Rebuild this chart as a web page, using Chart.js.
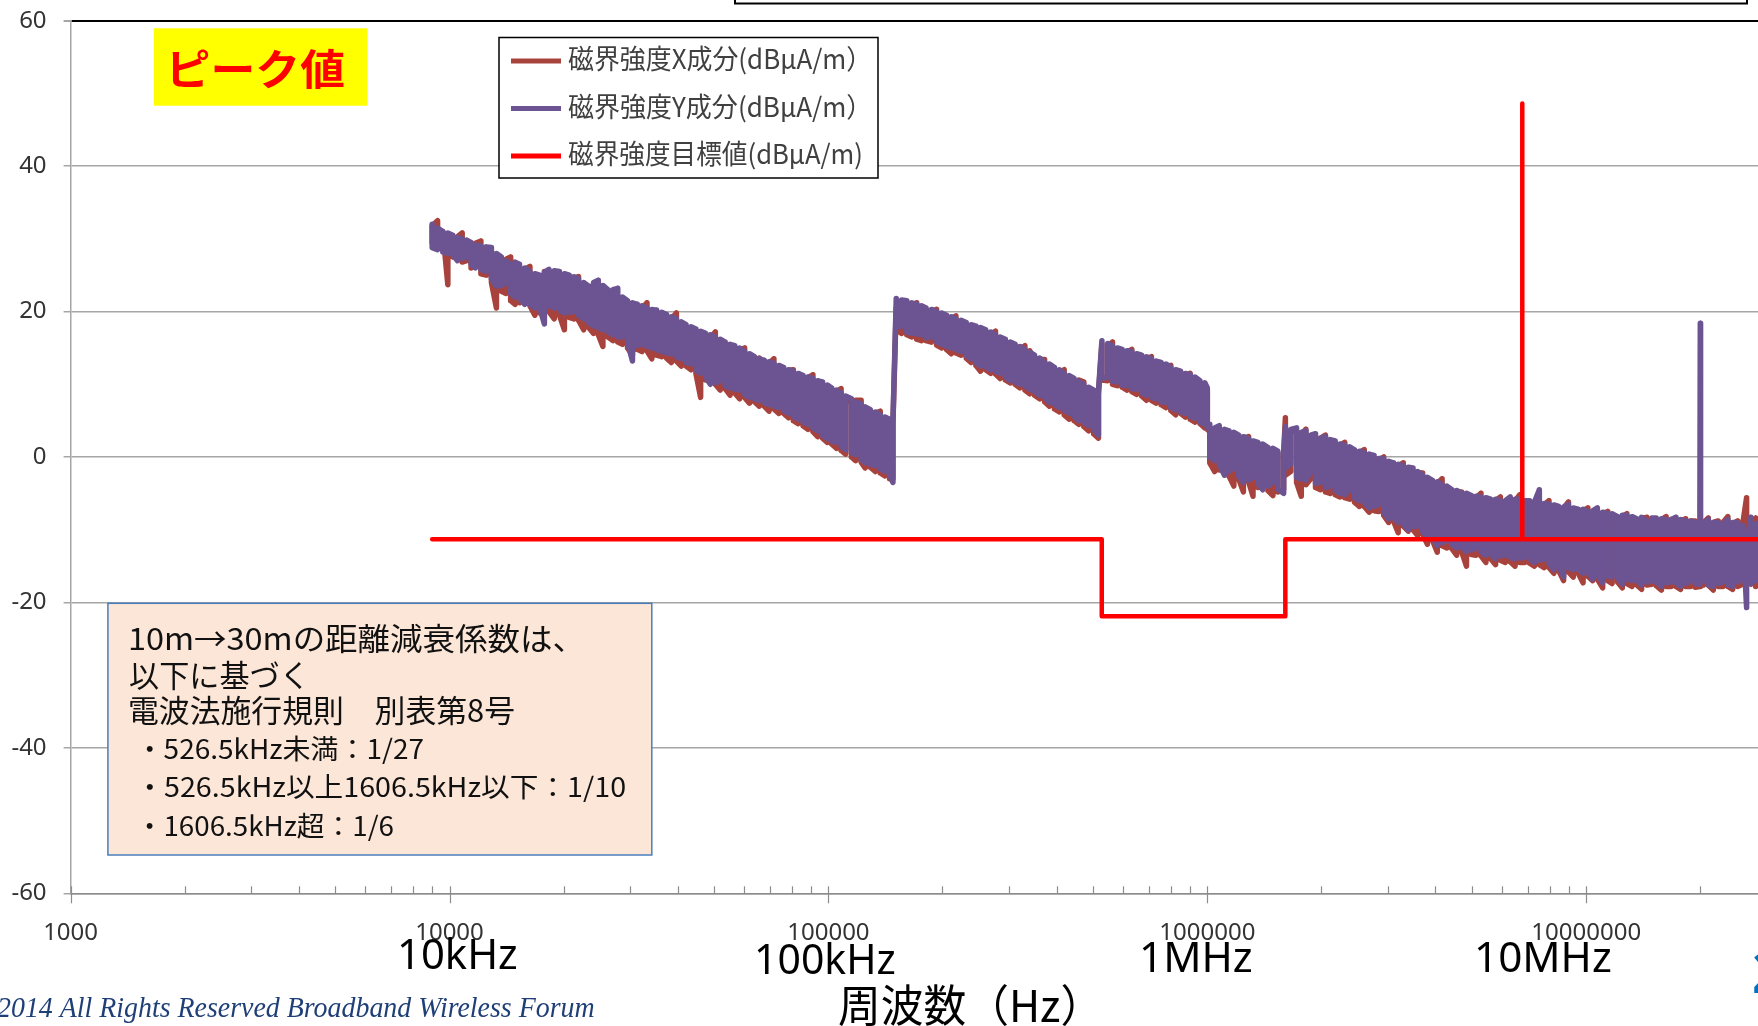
<!DOCTYPE html>
<html><head><meta charset="utf-8">
<script src="https://cdn.jsdelivr.net/npm/chart.js@4.4.1/dist/chart.umd.min.js"></script>
<style>html,body{margin:0;padding:0;background:#fff;overflow:hidden}canvas{display:block}</style>
</head><body>
<canvas id="c" width="1758" height="1026"></canvas>
<script>
// ---- data: frequency bins in kHz; two readings per bin (values in dBμA/m) ----
const freqA = [9.0,9.3,9.6,9.9,10.2,10.5,10.8,11.1,11.4,11.7,
12.1,12.5,12.9,13.3,13.7,14.1,14.5,14.9,15.3,15.8,
16.3,16.8,17.3,17.8,18.3,18.9,19.5,20.1,20.7,21.3,
21.9,22.6,23.3,24.0,24.7,25.4,26.2,27.0,27.8,28.6,
29.5,30.4,31.3,32.2,33.2,34.2,35.2,36.3,37.4,38.5,
39.7,40.9,42.1,43.4,44.7,46.0,47.4,48.8,50.3,51.8,
53.4,55.0,56.6,58.3,60.1,61.9,63.8,65.7,67.7,69.7,
71.8,74.0,76.2,78.5,80.8,83.2,85.7,88.3,91.0,93.7,
96.5,99.4,102,105,108,111,115,118,122,125,
129,133,137,141,145,148];
const xA = [29.5,32.5,29.0,23.7,30.0,28.0,30.8,27.0,29.0,26.5,
29.7,25.0,28.0,20.5,27.0,22.5,27.5,21.0,25.8,22.0,
26.2,19.5,24.5,20.0,24.8,19.0,25.0,17.5,24.5,19.0,
24.8,17.5,23.0,17.0,23.8,15.2,22.5,16.0,22.0,15.5,
21.0,14.0,20.8,14.5,21.2,13.5,19.5,13.8,19.0,13.0,
19.8,12.5,17.8,12.0,16.9,8.2,16.5,10.5,17.2,9.2,
15.2,8.5,14.8,8.0,15.0,7.4,13.2,7.0,12.8,6.3,
13.5,6.0,11.8,5.4,12.0,4.6,10.8,3.8,11.3,2.8,
9.8,2.0,9.0,1.2,9.4,0.4,7.4,-0.5,7.8,-1.5,
6.0,-2.0,6.3,-2.6,4.8,-3.0];
const xA2 = [31.8,28.8,31.0,29.5,27.5,30.3,26.8,29.8,26.0,29.4,
25.2,28.6,24.0,27.8,22.8,27.2,21.5,26.5,21.2,25.8,
20.8,25.0,19.8,25.5,20.0,25.2,19.5,24.7,19.2,24.6,
18.8,23.6,17.8,23.8,16.8,23.2,16.5,22.8,15.8,21.6,
15.0,21.0,14.8,20.5,14.6,20.0,14.0,19.6,13.6,19.0,
13.2,18.4,12.5,17.6,11.5,17.0,10.6,16.4,10.0,16.0,
9.4,15.3,8.8,14.7,8.2,14.0,7.6,13.6,7.0,12.9,
6.6,12.2,6.0,11.9,5.0,11.2,4.3,10.9,3.5,10.2,
2.6,9.6,1.8,9.0,0.9,8.1,0.0,7.8,-0.7,6.6,
-1.4,6.0,-2.2,5.2,-3.0,4.5];
const yA = [32.0,28.5,31.0,28.0,30.5,27.0,30.0,27.5,29.5,26.0,
29.0,25.5,28.8,23.5,27.5,24.0,26.5,22.0,26.5,21.0,
25.5,20.5,25.0,18.3,25.8,20.5,25.5,19.8,25.0,20.0,
24.5,19.0,23.5,18.0,24.3,17.5,23.0,16.8,23.2,16.5,
21.5,13.2,21.0,15.5,20.5,15.0,20.2,14.5,19.6,14.2,
19.0,13.5,18.2,12.8,17.6,11.5,17.0,10.0,16.5,10.5,
15.8,9.5,15.3,9.2,14.5,8.2,13.8,7.8,13.3,7.2,
12.9,6.8,12.3,6.0,11.8,5.2,11.2,4.5,10.8,3.6,
10.3,2.5,9.5,2.0,8.8,1.0,8.0,0.3,7.3,-0.8,
6.5,-1.2,5.8,-2.0,5.2,-3.5];
const yA2 = [28.8,31.5,28.2,30.8,27.8,30.2,27.3,29.8,26.5,29.2,
25.8,28.9,24.5,28.0,23.5,27.0,22.5,26.8,21.8,26.0,
21.0,25.2,20.5,25.4,20.8,25.6,20.2,25.2,19.9,24.8,
19.5,24.0,18.5,24.0,17.8,23.6,17.2,23.0,16.5,22.0,
15.8,21.2,15.3,20.8,15.2,20.3,14.8,19.9,14.3,19.3,
13.8,18.6,13.0,17.9,12.0,17.3,11.0,16.8,10.2,16.2,
9.8,15.5,9.3,15.0,8.6,14.2,8.0,13.5,7.5,13.1,
7.0,12.6,6.4,12.0,5.6,11.5,4.8,11.0,4.0,10.5,
3.0,9.9,2.2,9.2,1.5,8.4,0.6,7.6,-0.3,6.9,
-1.0,6.2,-1.6,5.5,-2.4,4.8];

const freqB = [151,156,161,166,171,176,181,187,193,199,
205,211,217,224,231,238,245,252,260,268,
276,284,293,302,311,320,330,340,350,361,
372,383,395,407,419,432,445,458,472,486,
501,516];
const xB = [20.5,17.0,21.0,16.5,21.2,16.0,19.8,15.8,20.3,15.0,
18.8,14.2,19.4,14.0,17.8,13.0,17.6,11.8,17.0,11.5,
17.3,10.8,15.8,10.2,15.0,9.5,15.3,8.7,13.5,8.0,
13.4,7.0,11.8,6.2,12.0,5.2,10.4,4.5,10.3,3.6,
8.8,2.6];
const xB2 = [17.5,21.2,16.8,20.8,16.2,20.6,16.0,20.0,15.4,19.6,
14.8,19.0,14.3,18.5,13.6,18.0,12.6,17.2,12.0,16.8,
11.4,16.4,10.6,15.6,10.0,14.8,9.2,14.6,8.5,13.4,
7.6,12.6,6.6,11.6,5.8,11.0,5.0,10.6,4.2,9.4,
3.2,8.6];
const yB = [21.8,18.0,21.5,17.0,21.0,16.8,20.5,16.5,20.0,15.5,
19.5,15.0,19.0,14.5,18.5,13.5,18.0,12.5,17.5,12.0,
16.8,11.5,16.2,10.5,15.5,10.0,14.8,9.3,14.0,8.5,
13.0,7.5,12.3,6.8,11.5,6.0,10.8,5.0,10.0,4.3,
9.2,3.0];
const yB2 = [17.8,21.6,17.2,21.2,16.9,20.8,16.4,20.3,15.9,19.8,
15.2,19.3,14.8,18.8,14.0,18.2,13.0,17.8,12.4,17.2,
11.8,16.5,11.0,15.8,10.3,15.2,9.8,14.4,9.0,13.6,
8.2,12.8,7.3,12.0,6.5,11.2,5.6,10.4,4.8,9.6,
3.8,9.0];

const freqC = [527,546,562,579,596,614,632,651,671,691,
712,733,755,778,801,825,850,875,901,928,
956,985,1000,1015,1045,1075,1110,1140,1175,1210,
1245,1285,1320,1360,1400,1445,1490,1535,1590];
const xC = [15.5,10.5,15.8,9.8,14.2,9.2,14.8,8.6,13.6,7.8,
13.8,7.4,12.5,6.8,12.6,5.8,11.2,5.5,11.5,4.8,
10.0,4.0,9.2,3.5,-2.0,4.0,-1.5,3.0,-4.0,2.4,
-4.8,2.8,-5.4,1.5,-4.0,1.0,-5.3,0.5,-4.5];
const xC2 = [10.6,15.2,10.0,14.8,9.6,14.4,9.0,13.9,8.4,13.4,
7.8,13.0,7.2,12.4,6.4,11.8,6.0,11.2,5.2,10.6,
4.6,9.9,3.8,-0.8,3.6,-1.8,3.4,-2.6,2.8,-3.0,
2.5,-3.4,2.0,-4.2,1.6,-4.6,1.0,-4.8,0.4];
const yC = [16.0,11.0,15.3,10.3,14.8,9.8,14.5,9.3,14.0,8.5,
13.5,8.0,13.0,7.5,12.3,6.5,11.8,6.0,11.3,5.3,
10.5,4.5,9.5,4.5,-0.5,4.3,-2.5,3.6,-1.5,3.0,
-3.5,2.5,-2.8,2.0,-4.5,1.3,-3.5,0.8,-5.0];
const yC2 = [10.8,15.6,10.4,15.0,9.9,14.6,9.4,14.2,8.8,13.8,
8.2,13.2,7.6,12.8,6.8,12.0,6.2,11.5,5.6,11.0,
4.8,10.2,4.0,0.0,4.0,-1.0,3.8,-2.0,3.4,-2.6,
2.8,-3.2,2.2,-3.6,1.8,-4.0,1.2,-4.4,0.6];

const freqD = [1607,1660,1720,1770,1820,1875,1930,1990,2050,2110,
2175,2240,2305,2375,2445,2520,2595,2675,2755,2835,
2920,3010,3100,3190,3290,3390,3490,3590,3700,3810,
3925,4045,4165,4290,4420,4550,4690,4830,4975,5120,
5275,5435,5595,5765,5935,6115,6300,6490,6680,6880,
7090,7300,7520,7745,7975,8215,8460,8715,8975,9245,
9525,9810,10100,10400,10700,11050,11400,11700,12100,12450,
12800,13200,13600,14000,14450,14900,15300,15800,16250,16750,
17250,17750,18300,18850,19400,19950,20000,20050,20400,21000,
21650,22300,22950,23650,24350,25100,25850,26500,27200,28000,
28800];
const xD = [5.4,-2.0,3.5,-5.4,3.8,-3.0,2.8,-4.5,3.0,-5.0,
1.8,-5.5,2.0,-5.8,0.6,-6.8,1.0,-7.6,-0.3,-7.5,
0.0,-9.0,-1.0,-10.4,-0.8,-10.2,-2.0,-10.8,-2.2,-12.0,
-3.5,-13.1,-3.0,-12.5,-4.8,-13.5,-4.8,-15.0,-5.6,-13.5,
-5.0,-14.5,-6.2,-14.8,-5.5,-14.5,-6.0,-15.0,-5.2,-14.5,
-6.2,-15.0,-5.8,-15.2,-6.0,-16.0,-7.2,-17.0,-6.2,-16.5,
-7.6,-17.3,-7.0,-17.0,-7.8,-18.0,-7.5,-17.4,-8.4,-18.0,
-7.8,-17.8,-8.7,-18.2,-8.3,-17.5,-8.8,-18.3,-8.2,-17.8,
-8.8,-18.2,-8.5,-17.8,-8.8,-17.8,-12.0,-9.5,-17.6,-8.4,
-18.3,-8.8,-17.8,-8.2,-18.2,-8.8,-17.5,-5.6,-17.5,-8.4,
-17.0];
const xD2 = [-2.5,3.6,-3.5,3.2,-3.8,2.8,-4.2,2.6,-4.8,2.2,
-5.2,1.6,-5.6,1.2,-6.2,0.6,-6.8,0.2,-7.4,-0.4,
-8.0,-0.8,-8.8,-1.2,-9.5,-1.6,-10.0,-2.2,-10.6,-3.0,
-11.4,-3.6,-12.2,-4.2,-12.6,-4.8,-13.0,-5.2,-13.4,-5.6,
-13.6,-5.8,-14.0,-6.0,-14.2,-6.1,-14.4,-6.0,-14.5,-6.2,
-14.6,-6.4,-14.8,-6.6,-15.2,-6.8,-15.6,-7.0,-15.8,-7.2,
-16.0,-7.4,-16.4,-7.6,-16.8,-7.8,-17.0,-8.0,-17.2,-8.2,
-17.4,-8.3,-17.6,-8.4,-17.6,-8.5,-17.7,-8.6,-17.8,-8.6,
-17.8,-8.8,-17.8,-8.8,-17.9,-9.0,-17.8,-17.4,-9.0,-17.6,
-9.0,-17.8,-9.0,-17.8,-9.2,-17.8,-9.4,-17.0,-9.2,-17.8,
-9.0];
const yD = [4.2,-1.0,4.0,-3.0,3.6,-2.0,3.2,-3.5,2.8,-4.0,
2.2,-5.0,1.6,-4.5,1.0,-6.0,0.6,-7.0,0.2,-6.5,
-0.2,-8.5,-0.8,-9.0,-1.2,-10.0,-1.5,-9.5,-2.5,-11.0,
-3.2,-12.2,-3.8,-11.5,-4.5,-12.5,-5.0,-13.0,-5.3,-12.5,
-5.5,-13.5,-5.8,-14.0,-6.0,-13.5,-5.5,-14.0,-5.8,-13.8,
-6.0,-14.5,-4.5,-14.0,-6.5,-15.5,-6.8,-16.5,-6.5,-15.5,
-7.2,-16.0,-7.5,-16.8,-7.0,-17.3,-7.8,-16.5,-8.2,-17.5,
-8.0,-17.0,-8.5,-17.6,-8.8,-17.0,-8.4,-17.8,-8.6,-17.2,
-8.3,-17.8,-8.8,-17.0,-9.0,-17.5,18.4,-10.0,-17.0,-8.6,
-17.8,-9.0,-17.2,-8.6,-17.8,-9.0,-16.8,-20.7,-8.3,-17.0,
-9.0];
const yD2 = [-1.5,3.8,-2.8,3.4,-3.2,3.0,-3.6,2.6,-4.2,2.4,
-4.6,1.8,-5.2,1.4,-5.6,0.8,-6.2,0.4,-6.8,-0.2,
-7.6,-0.6,-8.4,-1.0,-9.2,-1.4,-9.6,-2.0,-10.2,-2.8,
-11.0,-3.4,-11.8,-4.0,-12.0,-4.6,-12.4,-5.0,-12.8,-5.4,
-13.0,-5.6,-13.4,-5.8,-13.6,-6.0,-13.8,-5.8,-13.9,-6.0,
-14.0,-6.2,-14.2,-6.4,-14.6,-6.6,-15.0,-6.9,-15.2,-7.0,
-15.4,-7.2,-15.8,-7.4,-16.2,-7.6,-16.4,-7.8,-16.6,-8.0,
-16.8,-8.2,-17.0,-8.3,-17.2,-8.4,-17.2,-8.5,-17.3,-8.6,
-17.3,-8.6,-17.4,-8.8,-17.4,-9.0,-9.5,-17.2,-9.2,-17.6,
-9.0,-17.4,-9.2,-17.6,-9.0,-17.2,-9.4,-12.0,-17.4,-9.2,
-17.2];

// target line (Hz, dBμA/m)
const targetFreqHz = [9000,526500,526500,1606500,1606500,6780000,6780000,6780000,40000000];
const targetVal = [-11.3,-11.3,-21.9,-21.9,-11.3,-11.3,48.6,-11.3,-11.3];

const seriesLabels = ['磁界強度X成分(dBμA/m）','磁界強度Y成分(dBμA/m）','磁界強度目標値(dBμA/m)'];
const xTickValues = [1000,10000,100000,1000000,10000000];
const bandLabels = ['10kHz','100kHz','1MHz','10MHz'];
const noteLines = ['10m→30mの距離減衰係数は、','以下に基づく','電波法施行規則　別表第8号',
  '・526.5kHz未満：1/27','・526.5kHz以上1606.5kHz以下：1/10','・1606.5kHz超：1/6'];
const badgeText = 'ピーク値';
const axisTitle = '周波数（Hz）';
const footerText = '2014 All Rights Reserved Broadband Wireless Forum';
const pageText = '2';

// ---- build ----
const freqKHz = freqA.concat(freqB, freqC, freqD);
const xFirst = xA.concat(xB, xC, xD), xSecond = xA2.concat(xB2, xC2, xD2);
const yFirst = yA.concat(yB, yC, yD), ySecond = yA2.concat(yB2, yC2, yD2);
function binPts(f, a, b) {
  const out = [];
  f.forEach((k, i) => { out.push({x: k * 1000, y: a[i]}); out.push({x: k * 1000, y: b[i]}); });
  return out;
}

function inkText(ctx, text, font, color, left, right, midY) {
  ctx.save();
  ctx.font = font; ctx.fillStyle = color;
  ctx.textAlign = 'left'; ctx.textBaseline = 'alphabetic';
  const m = ctx.measureText(text);
  const w = m.actualBoundingBoxLeft + m.actualBoundingBoxRight;
  const sx = (right - left) / w;
  const by = midY + (m.actualBoundingBoxAscent - m.actualBoundingBoxDescent) / 2;
  ctx.translate(left, by);
  ctx.scale(sx, 1);
  ctx.fillText(text, m.actualBoundingBoxLeft, 0);
  ctx.restore();
}

const CJK = '"Noto Sans CJK JP"';
const deco = {
  id: 'deco',
  afterDraw(chart) {
    const ctx = chart.ctx;
    const xs = chart.scales.x;
    const yb = chart.chartArea.bottom;
    ctx.save();
    ctx.strokeStyle = '#8c8c8c'; ctx.lineWidth = 1.2;
    for (let e = 3; e <= 7; e++) {
      for (let m = 1; m <= 9; m++) {
        const v = m * Math.pow(10, e);
        if (v > xs.max) continue;
        const px = Math.round(xs.getPixelForValue(v)) + 0.5;
        ctx.beginPath();
        ctx.moveTo(px, yb - 7);
        ctx.lineTo(px, m === 1 ? yb + 10 : yb);
        ctx.stroke();
      }
    }
    ctx.restore();

    ctx.save();
    ctx.strokeStyle = '#000'; ctx.lineWidth = 2;
    ctx.strokeRect(735, -6, 1012, 9.5);
    ctx.restore();

    ctx.save();
    ctx.fillStyle = '#FFFF00';
    ctx.fillRect(153.8, 28.3, 213.6, 77.4);
    ctx.restore();
    inkText(ctx, badgeText, 'bold 42px ' + CJK, '#FF0000', 172, 344, 68.7);

    ctx.save();
    ctx.fillStyle = '#fff'; ctx.fillRect(499, 37.5, 379, 140.5);
    ctx.strokeStyle = '#000'; ctx.lineWidth = 1.5; ctx.strokeRect(499, 37.5, 379, 140.5);
    const lineY = [61, 108.5, 156];
    const textY = [59.5, 107.5, 154.5];
    const rights = [855, 855, 861];
    chart.data.datasets.forEach((ds, i) => {
      ctx.strokeStyle = ds.borderColor; ctx.lineWidth = 5;
      ctx.beginPath(); ctx.moveTo(511, lineY[i]); ctx.lineTo(561, lineY[i]); ctx.stroke();
      inkText(ctx, ds.label, '27px ' + CJK, '#404040', 568, rights[i], textY[i]);
    });
    ctx.restore();

    ctx.save();
    ctx.fillStyle = '#FCE6D8'; ctx.fillRect(107.9, 603.3, 543.9, 251.7);
    ctx.strokeStyle = '#4A7EBB'; ctx.lineWidth = 1.5; ctx.strokeRect(107.9, 603.3, 543.9, 251.7);
    ctx.restore();
    const noteBox = [[130, 564, 638.5, 31], [130, 302, 675, 31], [130, 514, 710, 31],
                     [146, 423, 749, 27], [146, 625, 787.5, 27], [146, 393, 826.7, 27]];
    noteLines.forEach((t, i) => {
      const b = noteBox[i];
      inkText(ctx, t, b[3] + 'px ' + CJK, '#111', b[0], b[1], b[2]);
    });

    const bandBox = [[400, 517, 953], [757, 895, 957.5], [1142, 1252, 956.5], [1477, 1611, 956.5]];
    bandLabels.forEach((t, i) => {
      const b = bandBox[i];
      inkText(ctx, t, '42px "Noto Sans"', '#000', b[0], b[1], b[2]);
    });

    inkText(ctx, axisTitle, '44px ' + CJK, '#000', 839, 1074, 1005);
    inkText(ctx, footerText, 'italic 30px "Liberation Serif"', '#1F3F77', -3, 594, 1010);

    ctx.save();
    ctx.font = 'bold 57px "Noto Sans"'; ctx.fillStyle = '#0070C0';
    ctx.textAlign = 'left'; ctx.textBaseline = 'alphabetic';
    ctx.fillText(pageText, 1752, 993);
    ctx.restore();
  }
};

Chart.defaults.font.family = '"Noto Sans", sans-serif';

new Chart(document.getElementById('c'), {
  type: 'line',
  data: {
    datasets: [
      {label: seriesLabels[0], data: binPts(freqKHz, xFirst, xSecond), borderColor: '#A8423C', borderWidth: 5.5,
       order: 2, clip: false, pointRadius: 0, borderJoinStyle: 'round', borderCapStyle: 'round'},
      {label: seriesLabels[1], data: binPts(freqKHz, yFirst, ySecond), borderColor: '#6B5491', borderWidth: 5.5,
       order: 1, clip: false, pointRadius: 0, borderJoinStyle: 'round', borderCapStyle: 'round'},
      {label: seriesLabels[2], data: targetFreqHz.map((f, i) => ({x: f, y: targetVal[i]})), borderColor: '#FF0000',
       borderWidth: 4.5, order: 0, clip: false, pointRadius: 0, borderJoinStyle: 'round', borderCapStyle: 'round'}
    ]
  },
  options: {
    responsive: false,
    animation: false,
    events: [],
    layout: {padding: {top: 20.7, right: 0, left: 0, bottom: 0}},
    elements: {line: {tension: 0, fill: false}, point: {radius: 0}},
    plugins: {legend: {display: false}, tooltip: {enabled: false}},
    scales: {
      x: {
        type: 'logarithmic', position: 'bottom', min: 1000, max: 2.84e7,
        grid: {display: false},
        border: {display: true, color: '#8C8C8C', width: 1.5},
        afterBuildTicks: (s) => { s.ticks = xTickValues.map(v => ({value: v})); },
        afterFit: (s) => { s.height = 132.7; s.paddingLeft = 0; s.paddingRight = 0; },
        ticks: {autoSkip: false, maxRotation: 0, padding: 17, color: '#333',
                font: {size: 24}, callback: (v) => String(v)}
      },
      y: {
        type: 'linear', min: -60, max: 60,
        grid: {
          color: (c) => (c.tick && c.tick.value === 60) ? '#000' : '#A6A6A6',
          lineWidth: (c) => (c.tick && c.tick.value === 60) ? 2 : 1.5,
          tickLength: 7, tickColor: '#A6A6A6'
        },
        border: {display: true, color: '#A6A6A6', width: 1.5},
        afterFit: (s) => { s.width = 70.6; s.paddingTop = 0; s.paddingBottom = 0; },
        ticks: {stepSize: 20, padding: 17, color: '#333', font: {size: 24}}
      }
    }
  },
  plugins: [deco]
});
</script>
</body></html>
